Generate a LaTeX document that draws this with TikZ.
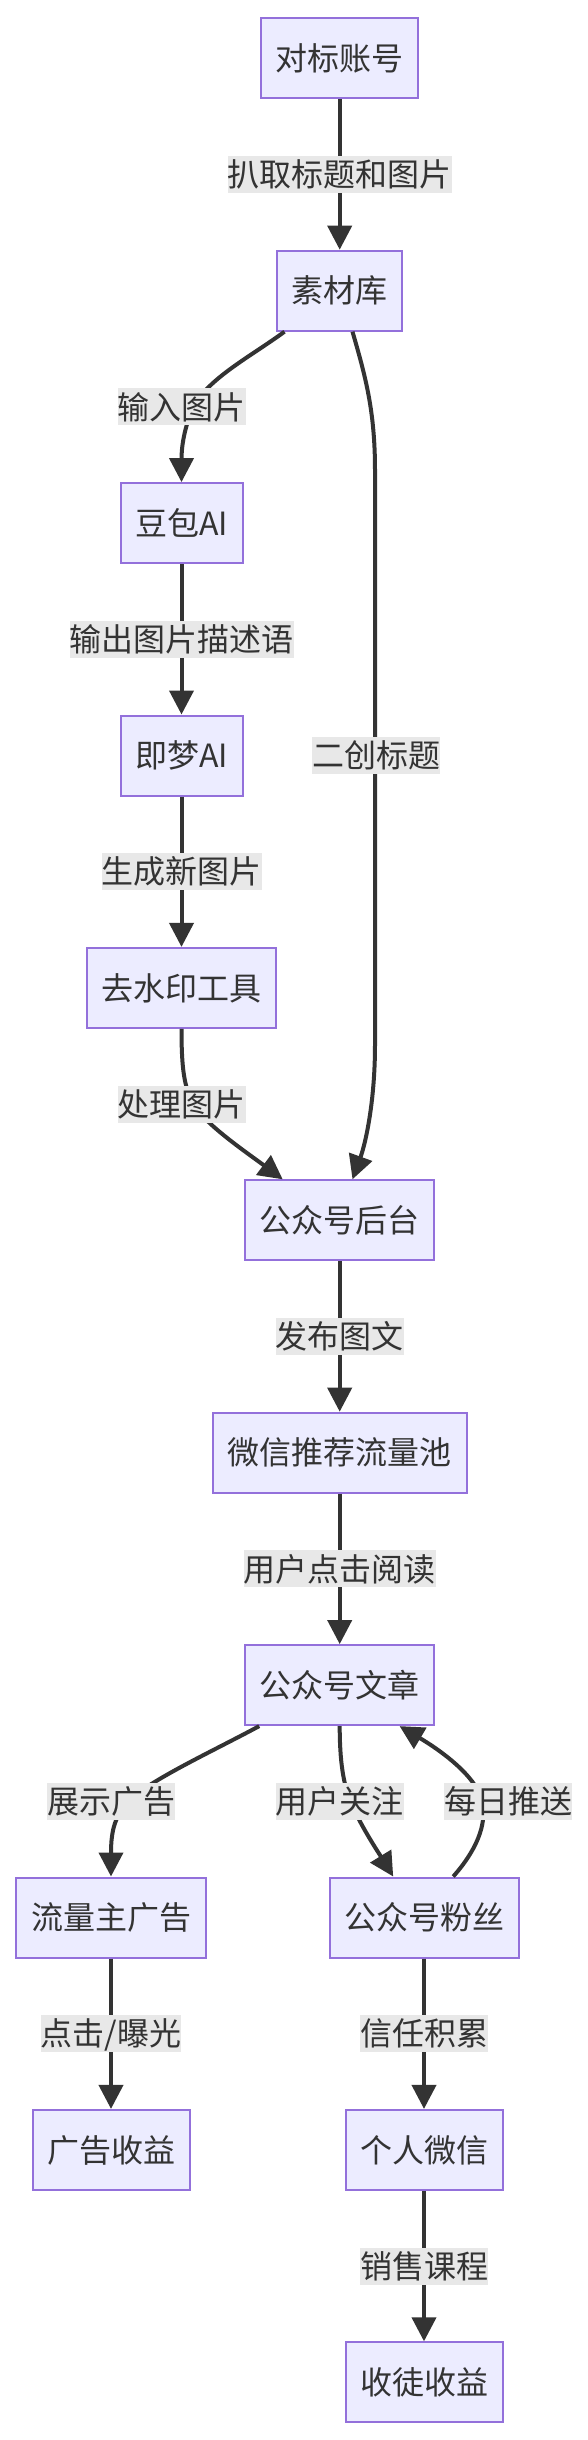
\documentclass[tikz,border=0pt]{standalone}
\usepackage{fontspec}
\setmainfont{Noto Sans CJK SC}
\usetikzlibrary{arrows.meta,calc}
\definecolor{nodefill}{HTML}{ECECFF}
\definecolor{nodeline}{HTML}{9370DB}
\definecolor{edgecol}{HTML}{333333}
\definecolor{lblfill}{HTML}{E8E8E8}
\definecolor{txtcol}{HTML}{333333}
\begin{document}
\begin{tikzpicture}[x=1pt,y=-1pt,
  box/.style={draw=nodeline, fill=nodefill, line width=2pt, minimum height=80pt,
    inner sep=0pt, text=txtcol, font=\fontsize{32}{38}\selectfont,
    text height=28pt, text depth=3.6pt, align=center},
  lbl/.style={fill=lblfill, inner sep=0pt, minimum height=37pt, text=txtcol,
    font=\fontsize{32}{38}\selectfont, text height=28pt, text depth=3.6pt},
  arr/.style={draw=edgecol, line width=4pt, -{Triangle[length=24pt,width=24pt]}},
]
\fill[white] (0,0) rectangle (588,2440);
\useasboundingbox (0,0) rectangle (588,2440);

% nodes
\node[box, minimum width=157pt] (dbzh) at (339.7,58.3) {对标账号};
\node[box, minimum width=125pt] (sck) at (339.7,290.7) {素材库};
\node[box, minimum width=122pt] (dbao) at (181.5,523.1) {豆包AI};
\node[box, minimum width=122pt] (jmeng) at (181.5,755.5) {即梦AI};
\node[box, minimum width=189pt] (qsy) at (181.5,987.9) {去水印工具};
\node[box, minimum width=189pt] (gzh) at (339.7,1220.3) {公众号后台};
\node[box, minimum width=254pt] (wxll) at (339.7,1452.7) {微信推荐流量池};
\node[box, minimum width=189pt] (wz) at (339.7,1685.1) {公众号文章};
\node[box, minimum width=190pt] (llz) at (111,1917.5) {流量主广告};
\node[box, minimum width=189pt] (fs) at (424,1917.5) {公众号粉丝};
\node[box, minimum width=157pt] (ggsy) at (111,2149.9) {广告收益};
\node[box, minimum width=157pt] (grwx) at (424,2149.9) {个人微信};
\node[box, minimum width=157pt] (stsy) at (424,2382.3) {收徒收益};

% edges
\draw[arr] (dbzh) -- (sck);
\draw[arr] ($(sck.south west)+(8.3,0)$) .. controls (250,357) and (205,380) .. (192,410)
   .. controls (183,432) and (181.5,450) .. (dbao.north);
\draw[arr] ($(sck.south)+(12.8,0)$) .. controls (365,375) and (375,410) .. (375,470)
   -- (375,1045) .. controls (375,1100) and (366,1142) .. ($(gzh.north)+(12.8,0)$);
\draw[arr] (dbao) -- (jmeng);
\draw[arr] (jmeng) -- (qsy);
\draw[arr] (qsy.south) .. controls (181.5,1075) and (185,1095) .. (200,1113)
   .. controls (215,1131) and (250,1155) .. ($(gzh.north west)+(38.5,0)$);
\draw[arr] (gzh) -- (wxll);
\draw[arr] (wxll) -- (wz);
\draw[arr] ($(wz.south west)+(15,0)$) .. controls (215,1750) and (150,1780) .. (130,1800)
   .. controls (115,1815) and (111,1830) .. (llz.north);
\draw[arr] (wz.south) .. controls (339.7,1760) and (343,1785) .. (352,1805)
   .. controls (362,1828) and (380,1855) .. ($(fs.north west)+(64.7,0)$);
\draw[arr] ($(fs.north west)+(124.7,0)$) .. controls (475,1852) and (488,1825) .. (482,1800)
   .. controls (475,1775) and (440,1750) .. ($(wz.south east)+(-35.6,0)$);
\draw[arr] (llz) -- (ggsy);
\draw[arr] (fs) -- (grwx);
\draw[arr] (grwx) -- (stsy);

% edge labels
\node[lbl] (l1) at (339.7,174.5) {扒取标题和图片};
\node[lbl] (l2) at (181.5,406.9) {输入图片};
\node[lbl] (l3) at (376,755.5) {二创标题};
\node[lbl] (l4) at (181.5,639.3) {输出图片描述语};
\node[lbl] (l5) at (181.5,871.7) {生成新图片};
\node[lbl] (l6) at (181.5,1104.1) {处理图片};
\node[lbl] (l7) at (339.7,1336.5) {发布图文};
\node[lbl] (l8) at (339.7,1568.9) {用户点击阅读};
\node[lbl] (l9) at (111,1801.3) {展示广告};
\node[lbl] (l10) at (339.7,1801.3) {用户关注};
\node[lbl] (l11) at (508,1801.3) {每日推送};
\node[lbl] (l12) at (111,2033.7) {点击/曝光};
\node[lbl] (l13) at (424,2033.7) {信任积累};
\node[lbl] (l14) at (424,2266.1) {销售课程};
\end{tikzpicture}
\end{document}
